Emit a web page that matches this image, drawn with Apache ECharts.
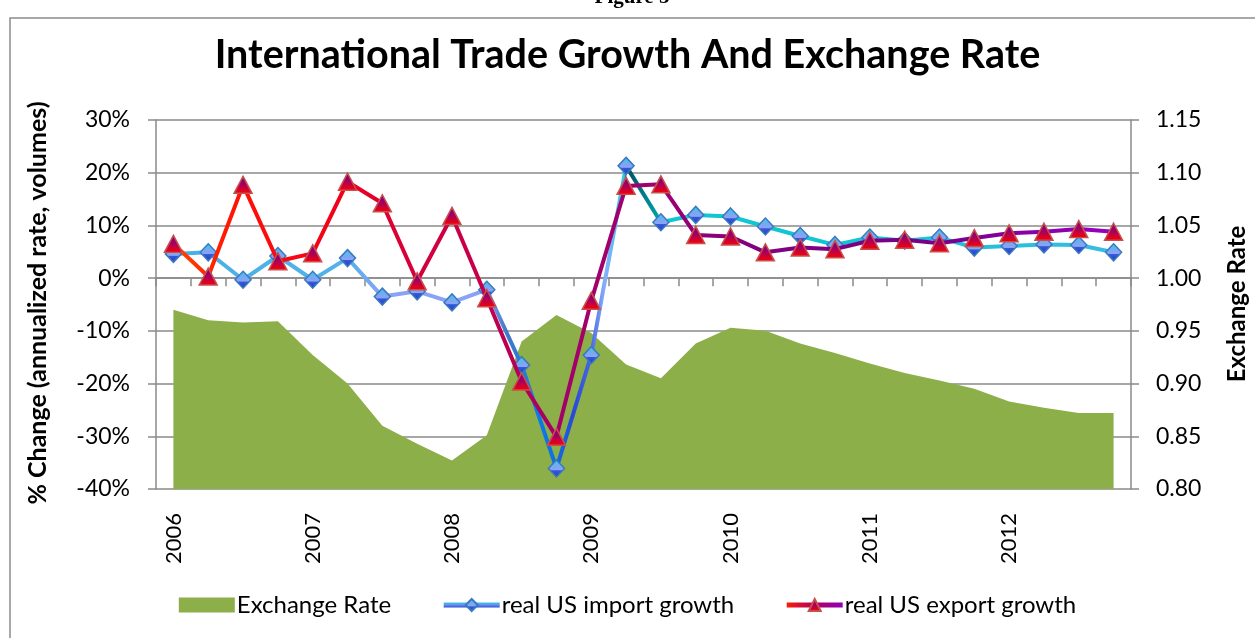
<!DOCTYPE html>
<html>
<head>
<meta charset="utf-8">
<title>International Trade Growth And Exchange Rate</title>
<script src="https://cdn.jsdelivr.net/npm/echarts@6/dist/echarts.min.js"></script>
<style>
  html, body { margin: 0; padding: 0; background: #ffffff; }
  #chart { width: 1255px; height: 638px; }
</style>
</head>
<body>
<div id="chart"></div>
<script>
// quarterly observations, 2006 Q1 .. 2012 Q4
const quarters = [
  '2006Q1', '2006Q2', '2006Q3', '2006Q4',
  '2007Q1', '2007Q2', '2007Q3', '2007Q4',
  '2008Q1', '2008Q2', '2008Q3', '2008Q4',
  '2009Q1', '2009Q2', '2009Q3', '2009Q4',
  '2010Q1', '2010Q2', '2010Q3', '2010Q4',
  '2011Q1', '2011Q2', '2011Q3', '2011Q4',
  '2012Q1', '2012Q2', '2012Q3', '2012Q4',
];

// % change, annualized
const importGrowth = [
  4.6, 4.9, -0.3, 4.2, -0.3, 3.8, -3.5, -2.5,
  -4.6, -2.2, -16.5, -36.1, -14.6, 21.3, 10.6, 12.0,
  11.7, 9.8, 8.0, 6.3, 7.7, 7.1, 7.7, 5.8,
  6.1, 6.4, 6.3, 4.9,
];

const exportGrowth = [
  6.5, 0.3, 17.7, 3.2, 4.7, 18.3, 14.2, -0.6,
  11.8, -3.8, -19.6, -30.1, -4.3, 17.5, 17.8, 8.2,
  7.9, 4.9, 5.8, 5.5, 7.1, 7.3, 6.6, 7.6,
  8.5, 8.8, 9.3, 8.8,
];

const exchangeRate = [
  0.970, 0.960, 0.958, 0.959, 0.927, 0.900, 0.860, 0.843,
  0.827, 0.851, 0.940, 0.965, 0.948, 0.918, 0.905, 0.938,
  0.953, 0.950, 0.938, 0.929, 0.919, 0.910, 0.903, 0.895,
  0.883, 0.877, 0.872, 0.872,
];

const growthTicks = { min: -40, max: 30, step: 10 };
const rateTicks = { min: 0.8, max: 1.15, step: 0.05 };

const FONT = 'Lato, "Open Sans", sans-serif';
const GRID_GREY = '#8a8a8a';

// line colours change along the series, like the original workbook
function alongLine(stops) {
  const last = quarters.length - 1;
  return new echarts.graphic.LinearGradient(0, 0, 1, 0,
    stops.map(([i, color]) => ({ offset: i / last, color })));
}

const importLine = alongLine([
  [0, '#4AAFE6'], [5, '#52B2EA'], [6, '#86A4F4'], [9, '#8AA2F6'],
  [9.6, '#3F79C2'], [10, '#2A7CD8'], [10.5, '#0A7AE8'], [11, '#1070E0'],
  [11.5, '#2A48D8'], [12, '#4868E0'], [12.4, '#88B0FA'], [12.95, '#30C8EA'],
  [13.02, '#005060'], [14, '#00A8B0'], [14.05, '#10C8D0'], [19, '#10C4D4'],
  [27, '#38BCE2'],
]);

const exportLine = alongLine([
  [0, '#FF4A00'], [1, '#FF2800'], [2, '#FF1008'], [5, '#F0001C'],
  [6, '#E00030'], [8, '#CC0044'], [9, '#C4004C'], [11, '#A40068'],
  [14, '#A00070'], [15, '#900078'], [17, '#800080'], [22, '#780088'],
  [27, '#9A00C4'],
]);

const importKey = new echarts.graphic.LinearGradient(0, 0, 0, 1, [
  { offset: 0, color: '#30C8E0' }, { offset: 0.5, color: '#6C8CF0' }, { offset: 1, color: '#2A50D0' },
]);

const exportKey = new echarts.graphic.LinearGradient(0, 0, 1, 0, [
  { offset: 0, color: '#FF2000' }, { offset: 0.5, color: '#B00060' }, { offset: 1, color: '#8C00C0' },
]);

const diamondFill = new echarts.graphic.LinearGradient(0, 0, 0, 1, [
  { offset: 0, color: '#28D0E4' },
  { offset: 0.42, color: '#7FA6F2' },
  { offset: 0.58, color: '#8AA4F6' },
  { offset: 0.62, color: '#3458D8' },
  { offset: 1, color: '#1E40C0' },
]);

const triangleFill = new echarts.graphic.LinearGradient(0, 0, 0, 1, [
  { offset: 0, color: '#70008C' },
  { offset: 0.5, color: '#A8005C' },
  { offset: 1, color: '#FF0000' },
]);

const chart = echarts.init(document.getElementById('chart'), null, { renderer: 'canvas' });

const opts = {
  backgroundColor: '#ffffff',
  animation: false,
  textStyle: { fontFamily: FONT },
  title: {
    text: 'International Trade Growth And Exchange Rate',
    left: 'center',
    top: 30,
    textStyle: { fontFamily: FONT, fontSize: 39.5, fontWeight: 'bold', color: '#000' },
  },
  graphic: [
    {
      type: 'rect',
      shape: { x: 10, y: 18, width: 1270, height: 650 },
      style: { fill: 'none', stroke: '#8c8c8c', lineWidth: 1.5 },
      silent: true,
    },
    {
      type: 'text',
      x: 632, y: 8,
      style: {
        text: 'Figure 5', font: 'bold 21px "Liberation Serif"', fill: '#000',
        textAlign: 'center', textVerticalAlign: 'bottom',
      },
      silent: true,
    },
    {
      type: 'text',
      x: 38, y: 303, rotation: Math.PI / 2,
      style: {
        text: '% Change (annualized rate, volumes)', font: 'bold 25px ' + FONT, fill: '#000',
        textAlign: 'center', textVerticalAlign: 'middle',
      },
      silent: true,
    },
    {
      type: 'text',
      x: 1237, y: 304, rotation: Math.PI / 2,
      style: {
        text: 'Exchange Rate', font: 'bold 24px ' + FONT, fill: '#000',
        textAlign: 'center', textVerticalAlign: 'middle',
      },
      silent: true,
    },
  ],
  legend: {
    left: 'center',
    top: 588,
    itemWidth: 56,
    itemHeight: 15,
    itemGap: 50,
    textStyle: { fontFamily: FONT, fontSize: 24, color: '#000', padding: [0, 0, 0, -3] },
    data: [
      { name: 'Exchange Rate', icon: 'rect' },
      { name: 'real US import growth', lineStyle: { width: 5, color: importKey } },
      { name: 'real US export growth', lineStyle: { width: 5, color: exportKey } },
    ],
  },
  grid: { left: 156, right: 124, top: 120, bottom: 149 },
  xAxis: [
    {
      type: 'category',
      data: quarters,
      boundaryGap: true,
      axisLine: { onZero: true, lineStyle: { color: GRID_GREY, width: 1.5 } },
      axisTick: { show: true, length: 8, interval: 0, lineStyle: { color: GRID_GREY, width: 1.5 } },
      axisLabel: { show: false },
      splitLine: { show: false },
    },
    {
      type: 'category',
      data: quarters,
      position: 'bottom',
      boundaryGap: true,
      axisLine: { show: false, onZero: false },
      axisTick: { show: false },
      axisLabel: {
        interval: 3,
        rotate: 90,
        margin: 24,
        fontFamily: FONT,
        fontSize: 22,
        color: '#000',
        formatter: (v) => v.slice(0, 4),
      },
    },
  ],
  yAxis: [
    {
      type: 'value',
      min: growthTicks.min,
      max: growthTicks.max,
      interval: growthTicks.step,
      axisLine: { show: true, lineStyle: { color: GRID_GREY, width: 1.5 } },
      axisTick: { show: true, length: 8, lineStyle: { color: GRID_GREY, width: 1.5 } },
      axisLabel: { formatter: '{value}%', fontFamily: FONT, fontSize: 23, color: '#000', margin: 26 },
      splitLine: { show: true, lineStyle: { color: GRID_GREY, width: 1.5 } },
    },
    {
      type: 'value',
      position: 'right',
      min: rateTicks.min,
      max: rateTicks.max,
      interval: rateTicks.step,
      axisLine: { show: true, lineStyle: { color: GRID_GREY, width: 1.5 } },
      axisTick: { show: true, length: 8, lineStyle: { color: GRID_GREY, width: 1.5 } },
      axisLabel: { formatter: (v) => v.toFixed(2), fontFamily: FONT, fontSize: 23, color: '#000', margin: 25 },
      splitLine: { show: false },
    },
  ],
  series: [
    {
      name: 'Exchange Rate',
      type: 'line',
      xAxisIndex: 0,
      yAxisIndex: 1,
      data: exchangeRate,
      showSymbol: false,
      symbol: 'none',
      lineStyle: { width: 0, color: '#8CAF4A' },
      itemStyle: { color: '#8CAF4A' },
      areaStyle: { color: '#8CAF4A', opacity: 1, origin: 'start' },
      z: 1,
    },
    {
      name: 'real US import growth',
      type: 'line',
      xAxisIndex: 0,
      yAxisIndex: 0,
      data: importGrowth,
      symbol: 'diamond',
      symbolSize: [16, 17],
      lineStyle: { width: 4, color: importLine },
      itemStyle: { color: diamondFill, borderColor: '#3C78C0', borderWidth: 1.5 },
      z: 3,
    },
    {
      name: 'real US export growth',
      type: 'line',
      xAxisIndex: 0,
      yAxisIndex: 0,
      data: exportGrowth,
      symbol: 'triangle',
      symbolSize: [18, 17],
      lineStyle: { width: 4, color: exportLine },
      itemStyle: { color: triangleFill, borderColor: '#C8504C', borderWidth: 1.5 },
      z: 4,
    },
  ],
};

chart.setOption(opts);
</script>
</body>
</html>
